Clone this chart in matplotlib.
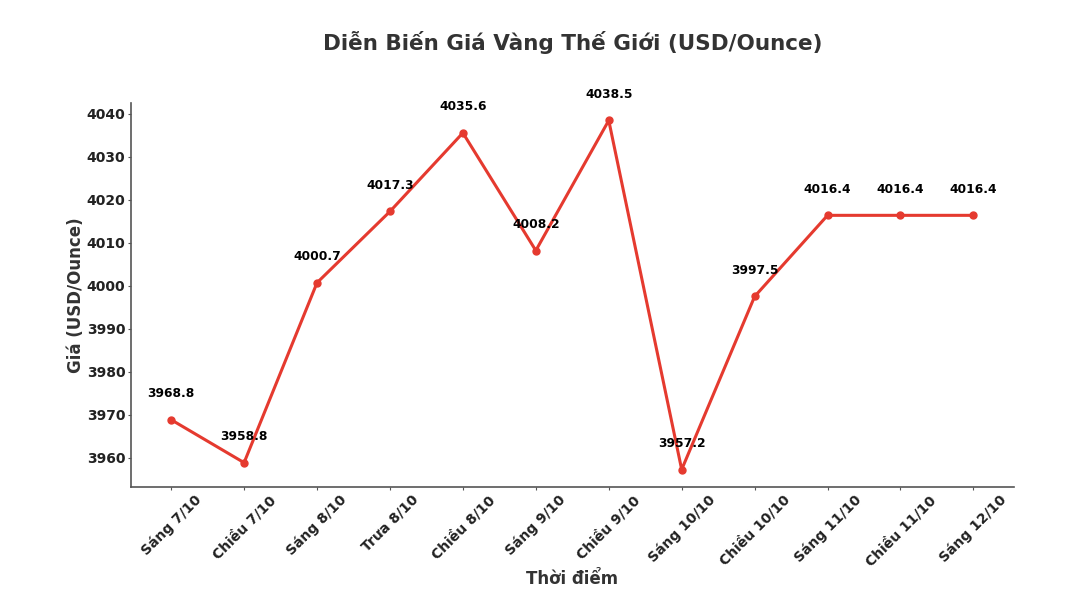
import matplotlib.pyplot as plt

# Giá vàng thế giới theo từng thời điểm
times = ['Sáng 7/10', 'Chiều 7/10', 'Sáng 8/10', 'Trưa 8/10', 'Chiều 8/10',
         'Sáng 9/10', 'Chiều 9/10', 'Sáng 10/10', 'Chiều 10/10', 'Sáng 11/10',
         'Chiều 11/10', 'Sáng 12/10']
prices = [3968.8, 3958.8, 4000.7, 4017.3, 4035.6, 4008.2, 4038.5, 3957.2,
          3997.5, 4016.4, 4016.4, 4016.4]

fig = plt.figure(figsize=(10.68, 6.04), dpi=100)
ax = fig.add_axes([0.1227, 0.1937, 0.8263, 0.6358])

x = list(range(len(times)))
ax.plot(x, prices, color='#e53a2f', linewidth=2.2, marker='o', markersize=5)

# nhãn giá trên mỗi điểm
for xi, p in zip(x, prices):
    ax.annotate(f'{p:.1f}', (xi, p), xytext=(0, 14), textcoords='offset points',
                ha='center', va='bottom', fontsize=8.8, fontweight='bold')

ax.set_xticks(x)
ax.set_xticklabels(times, rotation=45, ha='center',
                   fontsize=10, fontweight='bold', color='#222222')
for lab in ax.get_yticklabels():
    lab.set_fontweight('bold')
    lab.set_fontsize(10)
    lab.set_color('#222222')

ax.spines['top'].set_visible(False)
ax.spines['right'].set_visible(False)
for s in ['left', 'bottom']:
    ax.spines[s].set_color('#555555')
    ax.spines[s].set_linewidth(1.2)
ax.tick_params(colors='#555555', labelcolor='#222222', length=2.5, pad=1.5)

ax.set_xlabel('Thời điểm', fontsize=12, fontweight='bold', color='#333333', labelpad=1)
ax.set_ylabel('Giá (USD/Ounce)', fontsize=12, fontweight='bold', color='#333333',
              labelpad=1)
fig.text(0.536, 0.930, 'Diễn Biến Giá Vàng Thế Giới (USD/Ounce)', fontsize=15.5,
         fontweight='bold', color='#333333', ha='center', va='center')

fig.savefig('out.png', dpi=100)
